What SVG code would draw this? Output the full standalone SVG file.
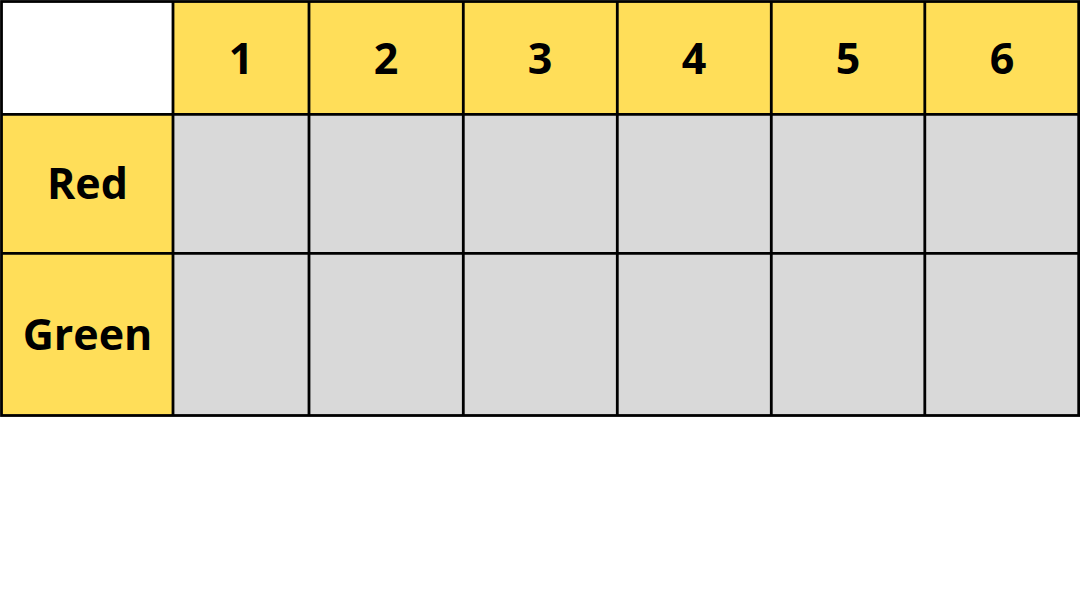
<svg xmlns="http://www.w3.org/2000/svg" width="1080" height="597" viewBox="0 0 1080 597">
<style>
.y{fill:#FFDE59}
.g{fill:#D9D9D9}
.w{fill:#FFFFFF}
.t{font-family:"Open Sans","Noto Sans","DejaVu Sans",sans-serif;font-weight:700;font-size:43px;fill:#000;text-anchor:middle}
.ln{stroke:#000;stroke-width:2.8;fill:none}
</style>
<rect width="1080" height="597" fill="#FFFFFF"/>
<g id="cells">
<g id="corner"><rect class="w" x="1.5" y="1.5" width="171.5" height="112.8"/></g>
<g id="h1"><rect class="y" x="173" y="1.5" width="136" height="112.8"/><text class="t" x="241" y="73.5">1</text></g>
<g id="h2"><rect class="y" x="309" y="1.5" width="154.3" height="112.8"/><text class="t" x="386" y="73.5">2</text></g>
<g id="h3"><rect class="y" x="463.3" y="1.5" width="154" height="112.8"/><text class="t" x="540" y="73.5">3</text></g>
<g id="h4"><rect class="y" x="617.3" y="1.5" width="154" height="112.8"/><text class="t" x="694" y="73.5">4</text></g>
<g id="h5"><rect class="y" x="771.3" y="1.5" width="153.5" height="112.8"/><text class="t" x="848" y="73.5">5</text></g>
<g id="h6"><rect class="y" x="924.8" y="1.5" width="153.9" height="112.8"/><text class="t" x="1002" y="73.5">6</text></g>
<g id="rowRed"><rect class="y" x="1.5" y="114.3" width="171.5" height="139"/><text class="t" x="87.5" y="198.8">Red</text></g>
<g id="rowGreen"><rect class="y" x="1.5" y="253.3" width="171.5" height="162.2"/><text class="t" x="87.5" y="350">Green</text></g>
<g id="grayCells"><rect class="g" x="173" y="114.3" width="905.7" height="301.2"/></g>
</g>
<g id="gridlines" class="ln">
<rect x="1.5" y="1.5" width="1077.2" height="414"/>
<line x1="173" y1="1.5" x2="173" y2="415.5"/>
<line x1="309" y1="1.5" x2="309" y2="415.5"/>
<line x1="463.3" y1="1.5" x2="463.3" y2="415.5"/>
<line x1="617.3" y1="1.5" x2="617.3" y2="415.5"/>
<line x1="771.3" y1="1.5" x2="771.3" y2="415.5"/>
<line x1="924.8" y1="1.5" x2="924.8" y2="415.5"/>
<line x1="1.5" y1="114.3" x2="1078.7" y2="114.3"/>
<line x1="1.5" y1="253.3" x2="1078.7" y2="253.3"/>
</g>
</svg>
